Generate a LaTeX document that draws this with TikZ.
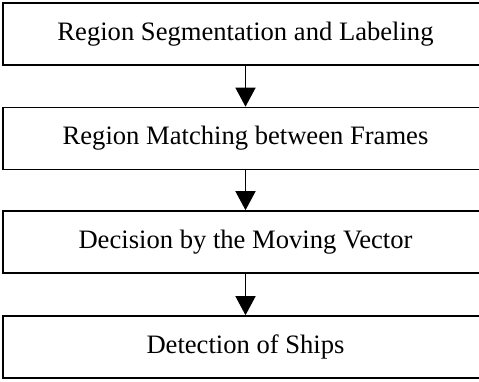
\documentclass[tikz,border=0pt]{standalone}
\usepackage{fontspec}
\setmainfont{Liberation Serif}
\usetikzlibrary{arrows.meta}
\begin{document}
\begin{tikzpicture}[x=1bp,y=-1bp,
  stepbox/.style={draw=black,line width=1.6bp,rectangle,minimum width=485bp,minimum height=62bp,inner sep=0pt,font=\fontsize{26.6bp}{31bp}\selectfont},
  flow/.style={line width=1.4bp,-{Triangle[length=19bp,width=20bp]}}]
\useasboundingbox (0,0) rectangle (479,381);
\clip (0,0) rectangle (479,381);
\fill[white] (0,0) rectangle (479,381);
\node[stepbox] (a) at (245.5,34) {Region Segmentation and Labeling};
\node[stepbox] (b) at (245.5,138.5) {Region Matching between Frames};
\node[stepbox] (c) at (245.5,242) {Decision by the Moving Vector};
\node[stepbox] (d) at (245.5,347) {Detection of Ships};
\draw[flow] (a.south) -- (b.north);
\draw[flow] (b.south) -- (c.north);
\draw[flow] (c.south) -- (d.north);
\end{tikzpicture}
\end{document}
